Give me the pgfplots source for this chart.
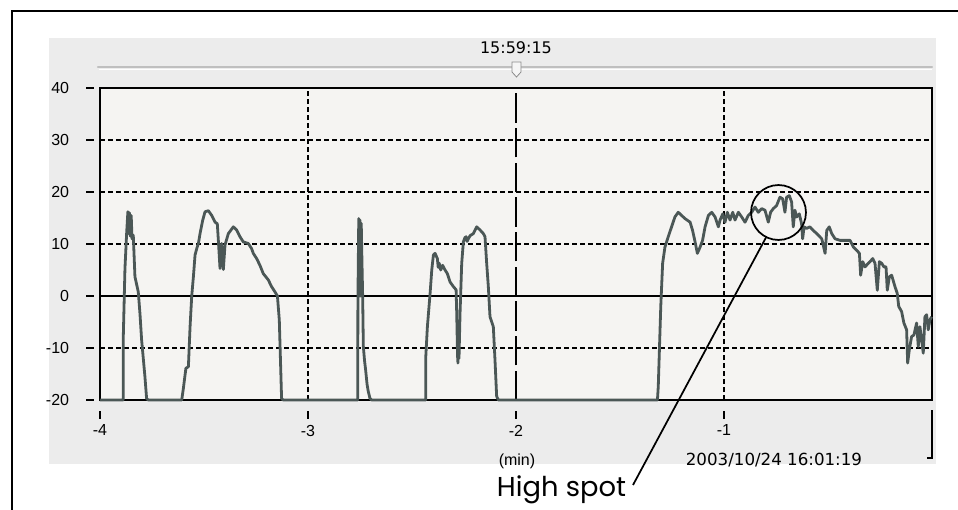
\documentclass[border=0pt]{standalone}
\usepackage{fontspec}
\setmainfont{DejaVu Sans}
\newfontfamily\libsans{Liberation Sans}
\newfontfamily\gothic{Poppins}
\usepackage{pgfplots}
\pgfplotsset{compat=1.18}
\definecolor{panel}{HTML}{ECECEC}
\definecolor{plotbg}{HTML}{F5F4F2}
\definecolor{curve}{HTML}{4B5756}
\begin{document}
\begin{tikzpicture}
\begin{scope}[x=0.75pt,y=-0.75pt]
\path[use as bounding box] (0,0) rectangle (958,510);
\fill[white] (0,0) rectangle (958,510);
\fill[panel] (49,38) rectangle (936,464);
\draw[line width=1.8pt] (12,520) -- (12,11) -- (970,11);
% title and slider
\node[font=\fontsize{12}{14}\selectfont] at (516,48) {15:59:15};
\draw[color=black!25, line width=1.6pt, line cap=round] (98,67) -- (932,67);
\draw[color=white, line width=0.8pt] (99,69.5) -- (932,69.5);
\filldraw[fill=white!96!black, draw=black!45, line width=0.6pt] (512,62) -- (521,62) -- (521,72) -- (516.5,77) -- (512,72) -- cycle;
% y tick marks
\foreach \py in {88,140,192,244,296,348,400} {\draw[line width=1.2pt] (86,\py) -- (94,\py);}
% x tick marks
\foreach \px in {100,308,516,724} {\draw[line width=1pt] (\px,411) -- (\px,419);}
% right bracket
\draw[line width=1.2pt] (932,410) -- (932,458) -- (927,458);
\node[font=\libsans\fontsize{12}{14}\selectfont] at (517,461) {(min)};
\node[font=\fontsize{12.5}{14}\selectfont] at (774,460) {2003/10/24 16:01:19};
\end{scope}
\begin{axis}[
 at={(75pt,-300pt)}, anchor=south west,
 scale only axis, width=624pt, height=234pt,
 xmin=-4, xmax=0, ymin=-20, ymax=40,
 axis background/.style={fill=plotbg},
 axis line style={black, line width=1pt},
 xtick={-4,-3,-2,-1}, xticklabels={-4,-3,-2,-1},
 ytick={-20,-10,0,10,20,30,40}, yticklabels={-20,-10,0,10,20,30,40},
 major tick length=0pt,
 tick label style={font=\libsans\fontsize{12}{14}\selectfont},
 yticklabel style={anchor=east, inner sep=0pt, xshift=-23pt},
 xticklabel style={anchor=north, inner sep=0pt, yshift=-18.5pt},
 clip=false,
 /pgf/number format/assume math mode=true,
]
\draw[black, line width=0.8pt, dash pattern=on 3.5pt off 2.5pt] (axis cs:-3,-20) -- (axis cs:-3,40);
\draw[black, line width=0.8pt, dash pattern=on 3.5pt off 2.5pt] (axis cs:-1,-20) -- (axis cs:-1,40);
\draw[black, line width=0.9pt, dash pattern=on 22pt off 4pt] (axis cs:-2,-20) -- (axis cs:-2,40);
\draw[black, line width=0.8pt, dash pattern=on 3.5pt off 2.5pt] (axis cs:-4,30) -- (axis cs:0,30);
\draw[black, line width=0.8pt, dash pattern=on 3.5pt off 2.5pt] (axis cs:-4,20) -- (axis cs:0,20);
\draw[black, line width=0.8pt, dash pattern=on 3.5pt off 2.5pt] (axis cs:-4,10) -- (axis cs:0,10);
\draw[black, line width=0.8pt, dash pattern=on 3.5pt off 2.5pt] (axis cs:-4,-10) -- (axis cs:0,-10);
\draw[black, line width=0.8pt] (axis cs:-4,0) -- (axis cs:0,0);
\addplot[curve, line width=2.1pt, line join=round, mark=none] coordinates {
(-4.000,-20) (-3.888,-20) (-3.888,-7.8) (-3.880,5.3) (-3.872,12.0) (-3.866,16.2)
(-3.862,12.0) (-3.858,16.0) (-3.854,11.5) (-3.850,15.5) (-3.846,11.0) (-3.840,11.7)
(-3.832,3.7) (-3.816,0.8) (-3.808,-3.3) (-3.800,-8.4) (-3.784,-15.5) (-3.776,-19.7) (-3.768,-20)
(-3.607,-20) (-3.599,-17.7) (-3.587,-13.9) (-3.575,-13.6) (-3.567,-5.9) (-3.559,0) (-3.551,3.7)
(-3.543,7.9) (-3.535,9.1) (-3.527,10.1) (-3.519,12.0) (-3.506,14.6) (-3.495,16.2) (-3.479,16.4)
(-3.463,15.5) (-3.447,14.2) (-3.436,13.9) (-3.431,10.7) (-3.423,5.3) (-3.415,10.1) (-3.407,5.1)
(-3.399,9.8) (-3.383,12.0) (-3.359,13.3) (-3.343,12.7) (-3.327,11.4) (-3.311,10.4) (-3.287,10.1)
(-3.271,9.1) (-3.263,8.2) (-3.247,7.2) (-3.231,5.9) (-3.215,4.3) (-3.191,3.1) (-3.175,1.8)
(-3.159,0.8) (-3.147,0) (-3.138,-4.6) (-3.131,-14.2) (-3.127,-19.7) (-3.119,-20)
(-2.761,-20) (-2.760,-0.8) (-2.756,14.9) (-2.753,0) (-2.750,14.6) (-2.747,0) (-2.744,14.0)
(-2.741,7.5) (-2.737,-0.5) (-2.734,-9.7) (-2.728,-12.5) (-2.723,-14.2) (-2.716,-17.0)
(-2.710,-18.4) (-2.702,-19.7) (-2.694,-20)
(-2.434,-20) (-2.434,-11.9) (-2.426,-5.9) (-2.413,0.5) (-2.405,5.0) (-2.397,7.9) (-2.389,8.2)
(-2.378,7.2) (-2.374,5.5) (-2.369,6.3) (-2.362,5.0) (-2.353,5.9) (-2.341,5.0) (-2.330,4.3)
(-2.317,2.7) (-2.301,1.8) (-2.288,1.2) (-2.285,-3.3) (-2.281,-11.5) (-2.279,-12.9) (-2.276,-6.0)
(-2.274,-12.0) (-2.272,-8.4) (-2.269,-3.3) (-2.261,6.3) (-2.253,10.4) (-2.246,11.2) (-2.240,11.4)
(-2.235,10.5) (-2.229,11.0) (-2.221,11.6) (-2.205,12.0) (-2.189,13.3) (-2.181,13.0) (-2.173,12.7)
(-2.157,12.0) (-2.149,11.4) (-2.141,6.3) (-2.133,1.8) (-2.125,-4.0) (-2.109,-5.9) (-2.101,-12.3)
(-2.093,-19.3) (-2.085,-20)
(-1.320,-20) (-1.316,-17.4) (-1.304,-2.0) (-1.295,6.3) (-1.284,9.4) (-1.268,11.4) (-1.252,13.3)
(-1.236,15.2) (-1.220,16.1) (-1.204,15.5) (-1.188,14.9) (-1.163,14.2) (-1.151,12.6) (-1.139,10.4)
(-1.128,8.2) (-1.115,9.4) (-1.103,10.7) (-1.091,13.3) (-1.075,15.5) (-1.059,16.1) (-1.043,15.2)
(-1.027,13.3) (-1.019,14.6) (-1.006,15.8) (-0.995,14.2) (-0.984,16.1) (-0.971,14.6) (-0.958,16.1)
(-0.947,14.6) (-0.931,16.1) (-0.915,15.2) (-0.899,14.2) (-0.883,15.5) (-0.867,16.1) (-0.851,17.1)
(-0.835,16.1) (-0.819,16.8) (-0.803,16.5) (-0.787,14.2) (-0.776,16.1) (-0.763,16.8) (-0.747,17.4)
(-0.731,19.0) (-0.718,18.7) (-0.707,16.1) (-0.699,19.0) (-0.686,19.3) (-0.675,18.1) (-0.667,13.3)
(-0.659,16.5) (-0.651,15.2) (-0.638,15.8) (-0.627,13.9) (-0.622,11.0) (-0.615,13.3) (-0.603,13.0)
(-0.587,13.3) (-0.571,12.6) (-0.554,12.0) (-0.530,11.0) (-0.514,8.2) (-0.506,12.6) (-0.494,13.3)
(-0.482,12.0) (-0.466,11.0) (-0.442,10.7) (-0.418,10.7) (-0.394,10.7) (-0.378,9.4) (-0.362,8.8)
(-0.349,8.2) (-0.343,4.0) (-0.333,6.6) (-0.322,5.6) (-0.306,6.3) (-0.298,6.6) (-0.285,7.2)
(-0.274,6.3) (-0.263,1.1) (-0.253,6.6) (-0.242,6.3) (-0.231,5.6) (-0.221,5.6) (-0.215,1.1)
(-0.205,3.7) (-0.194,4.0) (-0.178,1.8) (-0.167,0.5) (-0.160,-2.0) (-0.146,-3.0) (-0.135,-5.2)
(-0.122,-6.5) (-0.117,-12.9) (-0.109,-10.3) (-0.098,-7.8) (-0.087,-7.5) (-0.074,-5.2) (-0.066,-9.7)
(-0.058,-5.9) (-0.050,-8.4) (-0.042,-11.0) (-0.034,-4.0) (-0.026,-3.6) (-0.018,-6.5) (-0.010,-4.6)
(-0.002,-4.0)
};
\end{axis}
\begin{scope}[x=0.75pt,y=-0.75pt]
\draw[line width=1.3pt] (778.5,212.5) circle[radius=20.6pt];
\draw[line width=1.3pt] (633,485) -- (766,237.5);
\node[font=\gothic\fontsize{20.5}{24}\selectfont, anchor=base] at (561.5,496) {High spot};
\end{scope}
\end{tikzpicture}
\end{document}
